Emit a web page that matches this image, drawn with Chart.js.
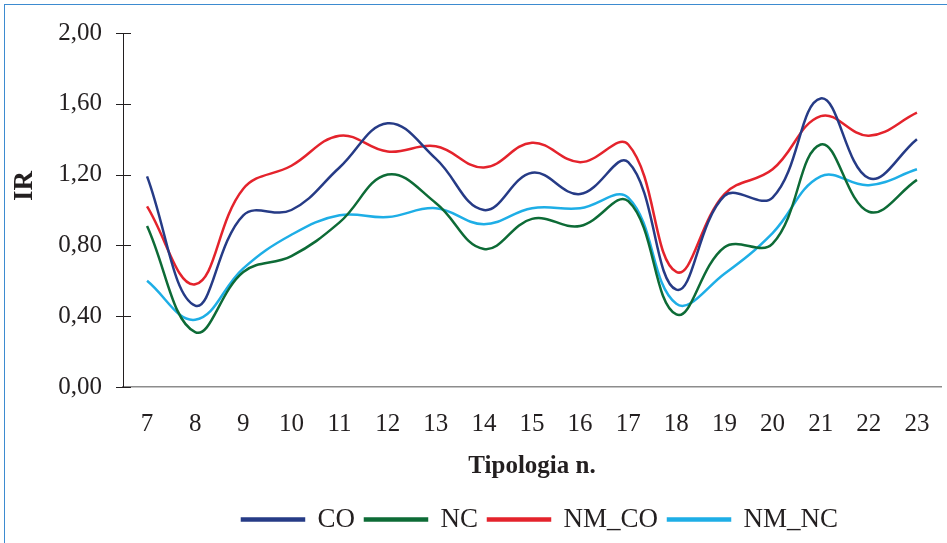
<!DOCTYPE html>
<html>
<head>
<meta charset="utf-8">
<script src="https://cdn.jsdelivr.net/npm/chart.js@4/dist/chart.umd.min.js"></script>
<style>
	html, body { margin: 0; padding: 0; background: #fff; overflow: hidden; }
	#wrap { position: relative; width: 947px; height: 543px; }
	#frame {
		position: absolute; left: 4px; top: 4px; width: 960px; height: 560px;
		border: 1.5px solid #3d8bd0; pointer-events: none;
	}
</style>
</head>
<body>
<div id="wrap">
	<canvas id="myChart" width="947" height="543"></canvas>
	<div id="frame"></div>
</div>
<script>
(() => {
	"use strict";

	const tipologie = ["7", "8", "9", "10", "11", "12", "13", "14", "15", "16", "17", "18", "19", "20", "21", "22", "23"];
	const co = [1.19, 0.46, 0.97, 1.00, 1.24, 1.49, 1.29, 1.00, 1.21, 1.09, 1.27, 0.55, 1.08, 1.07, 1.63, 1.18, 1.40];
	const nc = [0.91, 0.31, 0.65, 0.74, 0.93, 1.20, 1.04, 0.78, 0.95, 0.91, 1.05, 0.41, 0.79, 0.81, 1.37, 0.99, 1.17];
	const nmCo = [1.02, 0.58, 1.12, 1.25, 1.42, 1.33, 1.36, 1.24, 1.38, 1.27, 1.37, 0.65, 1.09, 1.23, 1.53, 1.42, 1.55];
	const nmNc = [0.60, 0.38, 0.67, 0.86, 0.97, 0.96, 1.01, 0.92, 1.01, 1.01, 1.07, 0.47, 0.64, 0.87, 1.19, 1.14, 1.23];

	const serif = '"Liberation Serif", "Times New Roman", serif';
	const ink = "#231f20";

	// y title, crossing tick marks and legend placement
	const axisExtras = {
		id: "axisExtras",
		afterLayout(chart) {
			// centre the legend under the plot area, not the whole canvas
			const lg = chart.legend;
			lg.left = chart.chartArea.left + 8;
			lg.right = chart.chartArea.right + 8;
		},
		afterDraw(chart) {
			const c = chart.ctx;
			const y = chart.scales.y;
			const area = chart.chartArea;
			c.save();
			c.strokeStyle = ink;
			c.lineWidth = 1;
			y.ticks.forEach((t) => {
				const py = Math.round(y.getPixelForValue(t.value)) + 0.5;
				c.beginPath();
				c.moveTo(area.left - 7, py);
				c.lineTo(area.left + 8, py);
				c.stroke();
			});
			c.translate(25, (area.top + area.bottom) / 2 - 24);
			c.rotate(-Math.PI / 2);
			c.font = "bold 27px " + serif;
			c.fillStyle = ink;
			c.textAlign = "center";
			c.textBaseline = "middle";
			c.fillText("IR", 0, 0);
			c.restore();
		},
	};

	const line = (label, data, color) => ({
		label,
		data,
		borderColor: color,
		backgroundColor: color,
		borderWidth: 2.5,
		pointRadius: 0,
		tension: 0.4,
		fill: false,
	});

	const draw = () => {
		const ctx = document.getElementById("myChart");
		// eslint-disable-next-line no-unused-vars
		const myChart = new Chart(ctx, {
			type: "line",
			data: {
				labels: tipologie,
				datasets: [
					line("CO", co, "#263b86"),
					line("NC", nc, "#0d6b36"),
					line("NM_CO", nmCo, "#e4232c"),
					line("NM_NC", nmNc, "#1eaee6"),
				],
			},
			options: {
				responsive: false,
				animation: false,
				devicePixelRatio: 1,
				layout: {
					padding: { top: 33, right: 6, left: 0, bottom: 0 },
				},
				plugins: {
					legend: {
						display: true,
						position: "bottom",
						labels: {
							font: { family: serif, size: 27 },
							color: ink,
							boxWidth: 62,
							boxHeight: 2,
							padding: 10,
						},
					},
					tooltip: { enabled: false },
				},
				scales: {
					x: {
						offset: true,
						grid: { display: false },
						border: { display: true, color: "#8c8c8c", width: 1.5 },
						ticks: {
							font: { family: serif, size: 25 },
							color: ink,
							padding: 14,
							maxRotation: 0,
						},
						title: {
							display: true,
							text: "Tipologia n.",
							font: { family: serif, size: 25, weight: "bold" },
							color: ink,
							padding: { top: 0, bottom: 14 },
						},
						afterFit(scale) {
							scale.height = 109;
						},
					},
					y: {
						min: 0,
						max: 2,
						grid: { display: false },
						border: { display: true, color: ink, width: 1 },
						ticks: {
							stepSize: 0.4,
							font: { family: serif, size: 25 },
							color: ink,
							padding: 13,
							callback: (v) => v.toFixed(2).replace(".", ","),
						},
						afterFit(scale) {
							scale.width = 123;
						},
					},
				},
			},
			plugins: [axisExtras],
		});
	};

	Promise.all([
		document.fonts.load('25px "Liberation Serif"'),
		document.fonts.load('bold 25px "Liberation Serif"'),
	]).then(draw, draw);
})();
</script>
</body>
</html>
